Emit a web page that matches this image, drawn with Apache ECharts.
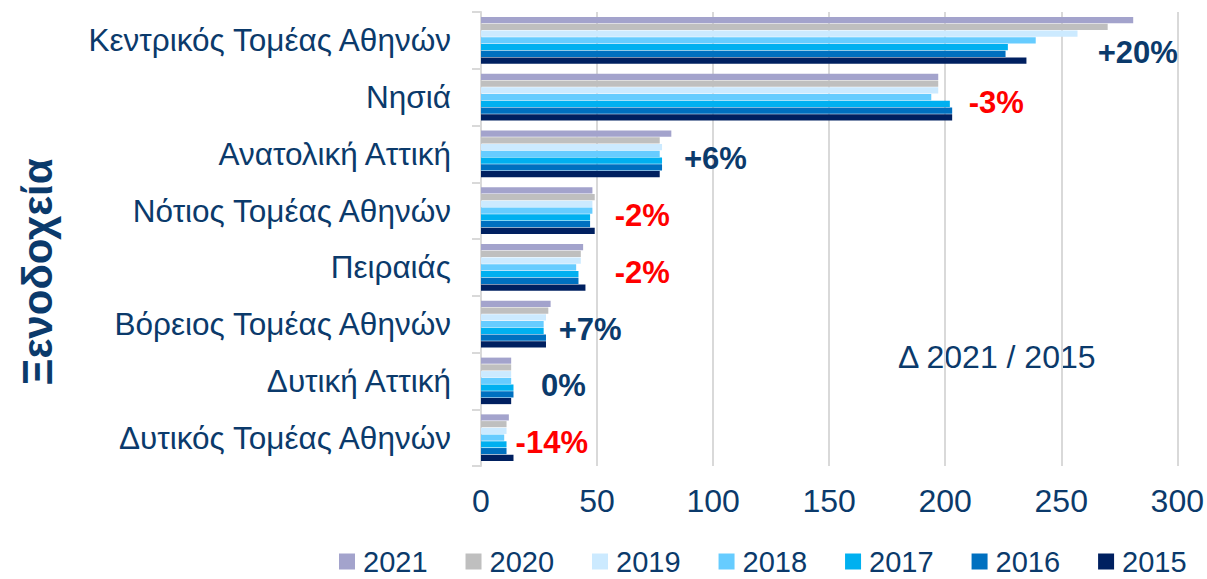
<!DOCTYPE html>
<html>
<head>
<meta charset="utf-8">
<script src="https://cdn.jsdelivr.net/npm/echarts@6/dist/echarts.min.js"></script>
<style>
  html, body { margin: 0; padding: 0; background: #fff; }
  #chart { width: 1207px; height: 579px; }
</style>
</head>
<body>
<div id="chart"></div>
<script>
// categories, top to bottom
var regions = [
  'Κεντρικός Τομέας Αθηνών',
  'Νησιά',
  'Ανατολική Αττική',
  'Νότιος Τομέας Αθηνών',
  'Πειραιάς',
  'Βόρειος Τομέας Αθηνών',
  'Δυτική Αττική',
  'Δυτικός Τομέας Αθηνών'
];

var years = ['2021', '2020', '2019', '2018', '2017', '2016', '2015'];
var yearColors = ['#a3a3cc', '#bfbfbf', '#cceaff', '#66ccff', '#00b0f0', '#0070c0', '#002060'];

// values per year, in region order
var v2021 = [281, 197, 82, 48, 44, 30, 13, 12];
var v2020 = [270, 197, 77, 49, 43, 29, 13, 11];
var v2019 = [257, 197, 78, 48, 43, 28, 13, 11];
var v2018 = [239, 194, 77, 48, 41, 27, 13, 10];
var v2017 = [227, 202, 78, 47, 42, 27, 14, 11];
var v2016 = [226, 203, 78, 47, 42, 28, 14, 11];
var v2015 = [235, 203, 77, 49, 45, 28, 13, 14];

// change 2021 / 2015 and where its label sits on the value axis
var changeLabels = ['+20%', '-3%', '+6%', '-2%', '-2%', '+7%', '0%', '-14%'];
var changeAt = [283, 222, 101, 69.5, 69.5, 47, 35.5, 30.5];

var navy = '#0b3a6b';
var red = '#ff0000';
var rule = '#d9d9d9';
var font = '"Liberation Sans", Arial, sans-serif';

var chart = echarts.init(document.getElementById('chart'), null, { renderer: 'svg' });

var allValues = [v2021, v2020, v2019, v2018, v2017, v2016, v2015];
var series = years.map(function(y, i) {
  return {
    name: y,
    type: 'bar',
    data: allValues[i],
    itemStyle: { color: yearColors[i] },
    barGap: '10%',
    barCategoryGap: '18%'
  };
});

series.push({
  type: 'scatter',
  symbolSize: 0,
  silent: true,
  z: 5,
  itemStyle: { opacity: 1 },
  data: changeLabels.map(function(t, i) {
    return {
      value: [changeAt[i], regions[i]],
      label: {
        show: true,
        position: 'inside',
        formatter: t,
        offset: [0, i === 0 ? 12 : 5],
        color: t.charAt(0) === '-' ? red : navy,
        opacity: 1,
        fontSize: 31,
        fontWeight: 'bold',
        fontFamily: font
      }
    };
  })
});

chart.setOption({
  animation: false,
  textStyle: { fontFamily: font },
  grid: { left: 481, right: 28, top: 12, height: 454 },
  legend: {
    data: years,
    top: 547,
    left: 339,
    padding: 0,
    itemWidth: 16,
    itemHeight: 16,
    itemGap: 38,
    icon: 'rect',
    textStyle: { color: navy, fontSize: 29, lineHeight: 28, fontFamily: font, padding: [0, 0, 0, 3] }
  },
  xAxis: {
    type: 'value',
    min: 0,
    max: 300,
    interval: 50,
    axisLine: { show: false },
    axisTick: { show: false },
    splitLine: { show: true, lineStyle: { color: rule, width: 2 } },
    axisLabel: { color: navy, fontSize: 32, margin: 19, fontFamily: font }
  },
  yAxis: {
    type: 'category',
    data: regions,
    inverse: true,
    axisLine: { show: true, lineStyle: { color: rule, width: 2 } },
    axisTick: { show: true, length: 9, lineStyle: { color: rule, width: 2 } },
    axisLabel: { color: navy, fontSize: 31.5, margin: 30, fontFamily: font }
  },
  graphic: [
    {
      type: 'text',
      left: 898,
      top: 341,
      style: { text: 'Δ 2021 / 2015', fill: navy, font: '32px ' + font }
    },
    {
      type: 'text',
      x: 37,
      y: 272,
      rotation: Math.PI / 2,
      style: {
        text: 'Ξενοδοχεία',
        fill: navy,
        font: 'bold 42px ' + font,
        align: 'center',
        verticalAlign: 'middle'
      }
    }
  ],
  series: series
});
</script>
</body>
</html>
